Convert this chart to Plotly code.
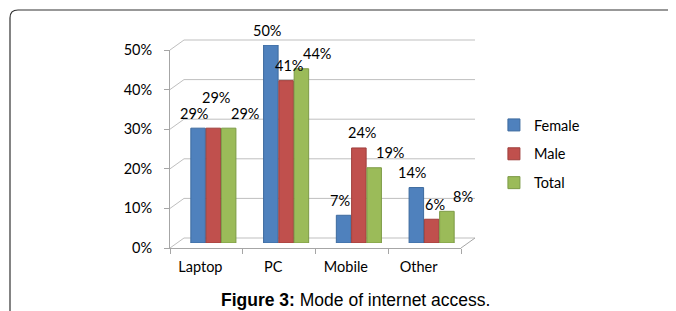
import plotly.graph_objects as go

categories = ["Laptop", "PC", "Mobile", "Other"]
female = [29, 50, 7, 14]
male = [29, 41, 24, 6]
total = [29, 44, 19, 8]
series_names = ["Female", "Male", "Total"]
colors = ["#4F81BD", "#C0504D", "#9BBB59"]
edge_colors = ["#3D6A9E", "#9E3E3B", "#7C9A45"]
y_ticks = [0, 10, 20, 30, 40, 50]
y_tick_labels = ["0%", "10%", "20%", "30%", "40%", "50%"]

FONT = "Lato, Open Sans, sans-serif"
FS = 14.5

# ---- geometry (pixels; the page adds an 8px body offset) ----
W, H = 668, 303
L, T = 162, 37
FRONT_W, FRONT_H = 291, 198       # front (axis) plane
DX, DY = 14, 10                   # 3D depth of the back wall
BX, BY = 7, 5                     # bars sit mid-depth
PW, PH = FRONT_W + BX, FRONT_H + BY
R, B = W - L - PW, H - T - PH
YMAX = 50
BARGAP = 0.37


def xp(px):
    return px / PW


def yp(px):
    return px / PH


def vy(v):
    return v / YMAX * FRONT_H


fig = go.Figure()
# invisible trace so the front (axis) subplot is drawn
fig.add_trace(go.Scatter(x=categories, y=[None] * len(categories),
                         xaxis="x", yaxis="y", showlegend=False,
                         hoverinfo="skip", mode="markers"))
for name, vals, c, ec in zip(series_names, [female, male, total], colors, edge_colors):
    fig.add_trace(go.Bar(
        x=categories, y=vals, name=name, legendgroup=name,
        xaxis="x2", yaxis="y2",
        marker=dict(color=c, line=dict(color=ec, width=1)),
        hovertemplate="%{x}: %{y}%<extra>" + name + "</extra>",
    ))

# back wall gridlines and floor (3D look)
shapes = []
for v in y_ticks:
    y0 = vy(v)
    shapes.append(dict(
        type="path", xref="paper", yref="paper", layer="below",
        path=f"M {xp(0)},{yp(y0)} L {xp(DX)},{yp(y0 + DY)} L {xp(DX + FRONT_W)},{yp(y0 + DY)}",
        line=dict(color="#BFBFBF", width=1)))
shapes.append(dict(
    type="path", xref="paper", yref="paper", layer="below",
    path=f"M {xp(FRONT_W)},{yp(0)} L {xp(FRONT_W + DX)},{yp(DY)}",
    line=dict(color="#A6A6A6", width=1)))
# frame around the figure
shapes.append(dict(
    type="path", xref="paper", yref="paper",
    path=f"M {xp(2 - L)},{yp(-90)} L {xp(2 - L)},{yp(PH + T - 2 - 8)} "
         f"Q {xp(2 - L)},{yp(PH + T - 2)} {xp(10 - L)},{yp(PH + T - 2)} L {xp(W + 50 - L)},{yp(PH + T - 2)}",
    line=dict(color="#333333", width=1.2)))

# data labels placed above the bars, with a simple collision bump
cat_w = FRONT_W / len(categories)
pitch = cat_w * (1 - BARGAP) / len(series_names)
label_dx = [-4, 3, 16]
annotations = []
placed = []
for s, vals in enumerate([female, male, total]):
    for i, v in enumerate(vals):
        xs = (s - 1) * pitch + label_dx[s]
        ys = 15
        cx = i * cat_w + cat_w / 2 + xs
        cy = vy(v) + ys
        for (px_, py_) in placed:
            if abs(px_ - cx) < 27 and abs(py_ - cy) < 15:
                cy = py_ + 16
                ys = cy - vy(v)
        placed.append((cx, cy))
        annotations.append(dict(
            x=categories[i], y=v, xref="x2", yref="y2", text=f"{v}%",
            xshift=xs, yshift=ys, showarrow=False,
            xanchor="center", yanchor="middle",
            font=dict(family=FONT, size=FS, color="#000000")))

annotations.append(dict(
    text="<b>Figure 3:</b> Mode of internet access.",
    xref="paper", yref="paper", x=xp(347 - L), y=yp(-(292 - (T + PH))),
    xanchor="center", yanchor="middle", showarrow=False,
    font=dict(family="Liberation Sans, Arial", size=17.5, color="#000000")))

fig.update_layout(
    width=W, height=H,
    margin=dict(l=L, r=R, t=T, b=B),
    paper_bgcolor="white", plot_bgcolor="rgba(0,0,0,0)",
    barmode="group", bargap=BARGAP, bargroupgap=0.05,
    font=dict(family=FONT, size=FS, color="#000000"),
    showlegend=True,
    legend=dict(x=1.087, y=0.463, xanchor="left", yanchor="middle",
                font=dict(family=FONT, size=FS, color="#000000"),
                tracegroupgap=7, itemwidth=30, bgcolor="rgba(0,0,0,0)"),
    xaxis=dict(domain=[0, FRONT_W / PW], range=[-0.5, len(categories) - 0.5],
               type="category", categoryarray=categories, anchor="y",
               showgrid=False, showline=True, linecolor="#A6A6A6",
               ticks="outside", tickson="boundaries", ticklen=5, tickcolor="#A6A6A6",
               ticklabelstandoff=6, ticklabelshift=-6,
               tickfont=dict(family=FONT, size=FS)),
    yaxis=dict(domain=[0, FRONT_H / PH], range=[0, YMAX], anchor="x",
               tickvals=y_ticks, ticktext=y_tick_labels,
               showgrid=False, showline=True, linecolor="#A6A6A6", ticks="outside",
               ticklen=5, tickcolor="#A6A6A6", zeroline=False, ticklabelstandoff=9,
               tickfont=dict(family=FONT, size=FS)),
    xaxis2=dict(domain=[BX / PW, 1], range=[-0.5, len(categories) - 0.5],
                type="category", categoryarray=categories, anchor="y2",
                visible=False),
    yaxis2=dict(domain=[BY / PH, 1], range=[0, YMAX], anchor="x2",
                visible=False, showgrid=False, zeroline=False),
    shapes=shapes,
    annotations=annotations,
)

fig.write_html("out.html")
